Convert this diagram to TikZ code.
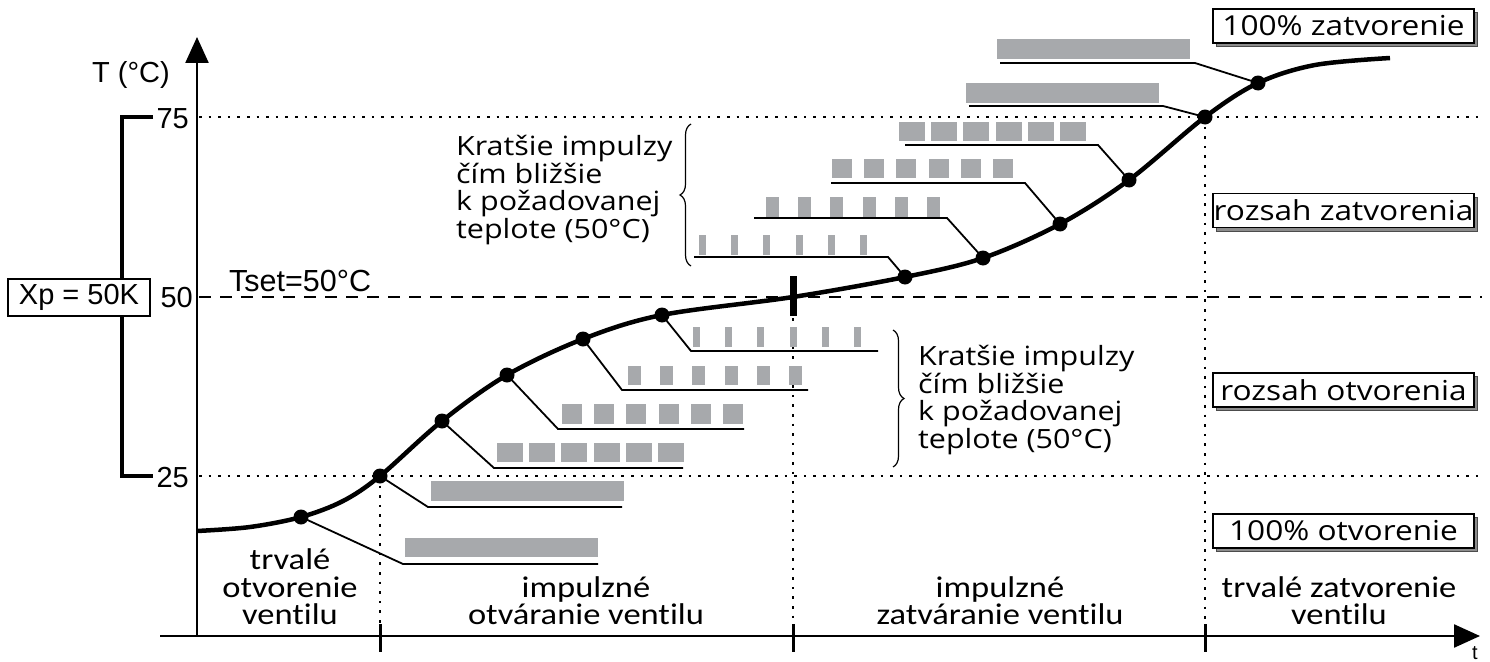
\documentclass[tikz,border=0pt]{standalone}
\usepackage{fontspec}
\setmainfont[FakeStretch=1.15]{Open Sans}
\newfontfamily\axisfont{Liberation Sans}
\newfontfamily\phasefont[FakeStretch=1.15,Ligatures=NoCommon]{Carlito}
\usetikzlibrary{arrows.meta,decorations.pathreplacing,shadows}
\definecolor{pulsegray}{HTML}{A7A9AC}
\definecolor{shadowgray}{HTML}{8C8C8C}
\begin{document}
\begin{tikzpicture}[x=1pt,y=-1pt,
  axisline/.style={line width=2.4pt},
  curveline/.style={line width=4.5pt},
  dotnode/.style={circle,fill=black,inner sep=0pt,minimum size=15pt},
  leader/.style={line width=1.8pt},
  pulse/.style={fill=pulsegray},
  gridline/.style={line width=2.6pt,dash pattern=on 2.6pt off 7pt},
  setline/.style={line width=1.8pt,dash pattern=on 12pt off 9pt},
  labelbox/.style={draw,line width=1.2pt,fill=white,minimum width=261pt,minimum height=34pt,inner sep=0pt,
    font=\fontsize{27.5}{29}\selectfont,
    copy shadow={shadow xshift=3.5pt,shadow yshift=-3.5pt,fill=shadowgray,draw=black!70,line width=0.8pt}},
  axistext/.style={font=\axisfont\fontsize{29}{31}\selectfont,inner sep=0pt},
  calltext/.style={align=left,anchor=north west,inner sep=0pt,font=\fontsize{26.5}{27.5}\selectfont},
  phasetext/.style={align=center,anchor=south,inner sep=0pt,font=\phasefont\fontsize{30}{27.5}\selectfont},
  bracepath/.style={line width=1.2pt,decorate,decoration={brace,amplitude=11pt}}
]
\useasboundingbox (0,0) rectangle (1490,661);

% ---- reference levels ----
\coordinate (g75a) at (199,117);  \coordinate (g75b) at (1482,117);
\coordinate (g25a) at (199,476);  \coordinate (g25b) at (1482,476);
\coordinate (g50a) at (199,297);  \coordinate (g50b) at (1482,297);
\draw[gridline] (g75a) -- (g75b);
\draw[gridline] (g25a) -- (g25b);
\draw[setline] (g50a) -- (g50b);

% ---- phase boundaries ----
\coordinate (v1t) at (380,476);  \coordinate (v1b) at (380,626);
\coordinate (v2t) at (793,318);  \coordinate (v2b) at (793,626);
\coordinate (v3t) at (1205,117); \coordinate (v3b) at (1205,626);
\draw[gridline] (v1t) -- (v1b);
\draw[gridline] (v2t) -- (v2b);
\draw[gridline] (v3t) -- (v3b);

% ---- axes ----
\coordinate (o) at (197,636);
\coordinate (ytip) at (197,37);
\coordinate (xstart) at (160,636);
\coordinate (xtip) at (1480,636);
\draw[axisline,-{Triangle[length=26pt,width=23pt]}] (o) -- (ytip);
\draw[axisline,-{Triangle[length=26pt,width=23pt]}] (xstart) -- (xtip);
\foreach \x [count=\k] in {380,793,1205}{
  \coordinate (tk\k a) at (\x,624);
  \coordinate (tk\k b) at (\x,652);
  \draw[line width=3pt] (tk\k a) -- (tk\k b);
}
\node[axistext,font=\axisfont\fontsize{20}{22}\selectfont] (tlabel) at (1475,653) {t};
\node[axistext] (ylabel) at (131,75) {T (°C)};
\node[axistext,anchor=east] (l75) at (189,119) {75};
\node[axistext,anchor=east] (l50) at (193,298) {50};
\node[axistext,anchor=east] (l25) at (189,478) {25};
\node[axistext,anchor=west,font=\axisfont\fontsize{30.5}{32}\selectfont] (tset) at (229,281) {Tset=50°C};

% ---- proportional band ----
\coordinate (br1) at (153,117); \coordinate (br2) at (122,117);
\coordinate (br3) at (122,476); \coordinate (br4) at (153,476);
\draw[line width=4pt] (br1) -- (br2) -- (br3) -- (br4);
\node[draw,line width=1.6pt,fill=white,minimum width=142pt,minimum height=37pt,inner sep=0pt,
      font=\axisfont\fontsize{29}{31}\selectfont] (xp) at (79,297.5) {Xp = 50K};

% ---- pulse trains (left x, top, bottom, pulse width, count) ----
\foreach \xs/\yt/\yb/\w/\n [count=\r] in {
   405/538/557/193/1, 431/481/501/193/1, 497/443/462/26/6, 562/404/424/20/6,
   628/366/385/13/6, 693/327/347/7/6,
   699/235/255/7/6, 766/197/217/13/6, 832/159/178/20/6, 899/122/141/26/6,
   966/83/103/193/1, 997/39/59/193/1}{
  \foreach \i in {1,...,\n}{
    \fill[pulse] ({\xs+32.2*(\i-1)},\yt) rectangle ++(\w,\yb-\yt);
  }
}

% ---- temperature curve ----
\foreach \x/\y [count=\k from 0] in {197/531,301/517,380/476,442/421,507/375,583/339,662/315,
   793/297,905/277,983/258,1060/224,1129/180,1205/117,1258/83,1390/58}{
  \coordinate (c\k) at (\x,\y);
}
\coordinate (ca) at (250,527);
\coordinate (cb) at (343,501);
\coordinate (cc) at (1315,65);
\draw[curveline] plot[smooth,tension=0.55] coordinates {(c0) (ca) (c1) (cb) (c2) (c3) (c4) (c5) (c6) (c7)
   (c8) (c9) (c10) (c11) (c12) (c13) (cc) (c14)};

% ---- leaders from curve points to pulse trains ----
\foreach \p/\kx/\ky/\ex [count=\r] in {
   1/403/564/598, 2/428/507/622, 3/494/468/683, 4/558/429/744, 5/622/390/808, 6/691/351/878,
   8/888/257/694, 9/947/218/754, 10/1025/183/831, 11/1098/145/905, 12/1163/106/969, 13/1195/63/1000}{
  \coordinate (k\r) at (\kx,\ky);
  \coordinate (e\r) at (\ex,\ky);
  \draw[leader] (c\p) -- (k\r) -- (e\r);
}
\foreach \k in {1,2,3,4,5,6,8,9,10,11,12,13}{
  \node[dotnode] (d\k) at (c\k) {};
}
\fill (790,276) rectangle (797,316);

% ---- braces ----
\coordinate (ub1) at (691,266); \coordinate (ub2) at (691,124);
\coordinate (lb1) at (893,330); \coordinate (lb2) at (893,467);
\draw[bracepath] (ub1) -- (ub2);
\draw[bracepath] (lb1) -- (lb2);

% ---- explanations ----
\node[calltext] (noteup) at (456,135) {Kratšie impulzy\\čím bližšie\\k požadovanej\\teplote (50°C)};
\node[calltext] (notelow) at (918,345) {Kratšie impulzy\\čím bližšie\\k požadovanej\\teplote (50°C)};

% ---- valve states ----
\node[labelbox] (bclose) at (1343.5,26) {100\% zatvorenie};
\node[labelbox] (brclose) at (1343.5,210.5) {rozsah zatvorenia};
\node[labelbox] (bropen) at (1343.5,390) {rozsah otvorenia};
\node[labelbox] (bopen) at (1343.5,531) {100\% otvorenie};

% ---- phases ----
\node[phasetext] (ph1) at (290,625) {trvalé\\otvorenie\\ventilu};
\node[phasetext] (ph2) at (586,625) {impulzné\\otváranie ventilu};
\node[phasetext] (ph3) at (1000,625) {impulzné\\zatváranie ventilu};
\node[phasetext] (ph4) at (1339,625) {trvalé zatvorenie\\ventilu};
\end{tikzpicture}
\end{document}
